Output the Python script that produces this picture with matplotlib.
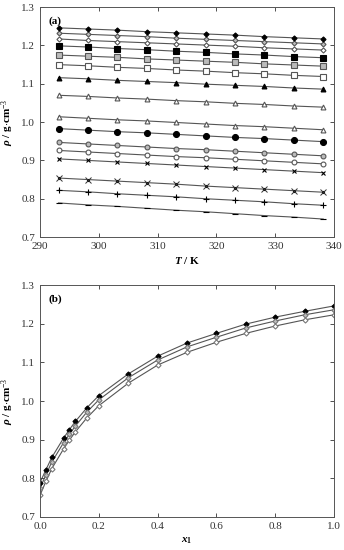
import numpy as np
import matplotlib.pyplot as plt

plt.rcParams['font.family'] = ['Liberation Serif', 'DejaVu Serif']
plt.rcParams['mathtext.fontset'] = 'custom'
plt.rcParams['mathtext.rm'] = 'Liberation Serif'
plt.rcParams['mathtext.it'] = 'Liberation Serif:italic'
plt.rcParams['mathtext.bf'] = 'Liberation Serif:bold'
plt.rcParams['mathtext.bfit'] = 'Liberation Serif:bold:italic'

T = [293.15, 298.15, 303.15, 308.15, 313.15, 318.15, 323.15, 328.15, 333.15, 338.15]
x1 = [0.0, 0.02, 0.04, 0.08, 0.10, 0.12, 0.16, 0.20, 0.30, 0.40, 0.50, 0.60, 0.70, 0.80, 0.90, 1.0]

# density (g/cm3), one row per composition x1, columns = T
rho = [
    [0.789, 0.784, 0.780, 0.775, 0.770, 0.766, 0.761, 0.756, 0.752, 0.747],
    [0.822, 0.818, 0.813, 0.809, 0.805, 0.800, 0.796, 0.792, 0.787, 0.783],
    [0.854, 0.850, 0.846, 0.842, 0.838, 0.833, 0.829, 0.825, 0.821, 0.817],
    [0.904, 0.900, 0.896, 0.892, 0.888, 0.884, 0.880, 0.876, 0.872, 0.868],
    [0.926, 0.922, 0.918, 0.914, 0.910, 0.907, 0.903, 0.899, 0.895, 0.891],
    [0.947, 0.943, 0.939, 0.935, 0.931, 0.928, 0.924, 0.920, 0.916, 0.912],
    [0.983, 0.979, 0.975, 0.972, 0.968, 0.964, 0.960, 0.957, 0.953, 0.949],
    [1.014, 1.010, 1.006, 1.003, 0.999, 0.995, 0.991, 0.988, 0.984, 0.980],
    [1.070, 1.067, 1.063, 1.060, 1.056, 1.053, 1.049, 1.046, 1.042, 1.039],
    [1.116, 1.113, 1.109, 1.106, 1.103, 1.099, 1.096, 1.093, 1.089, 1.086],
    [1.150, 1.147, 1.143, 1.140, 1.136, 1.133, 1.129, 1.126, 1.122, 1.119],
    [1.175, 1.172, 1.169, 1.165, 1.162, 1.159, 1.156, 1.152, 1.149, 1.146],
    [1.199, 1.196, 1.192, 1.189, 1.185, 1.182, 1.178, 1.175, 1.171, 1.168],
    [1.217, 1.213, 1.210, 1.207, 1.204, 1.201, 1.198, 1.194, 1.191, 1.188],
    [1.232, 1.229, 1.226, 1.223, 1.219, 1.216, 1.213, 1.210, 1.207, 1.204],
    [1.246, 1.243, 1.240, 1.236, 1.233, 1.230, 1.227, 1.223, 1.220, 1.217],
]

# marker, face colour, size for each composition in panel (a)
styles = [
    ('_', 'black', 5), ('+', 'black', 4.5), ('s', 'black', 2), ('x', 'black', 3.5),
    ('o', 'white', 3.5), ('o', '#bbbbbb', 3.5), ('o', 'black', 4.3), ('^', 'white', 3.5),
    ('^', 'white', 3.5), ('^', 'black', 3.5), ('s', 'white', 4), ('s', '#bbbbbb', 4),
    ('s', 'black', 4.3), ('D', 'white', 2.6), ('D', '#bbbbbb', 2.6), ('D', 'black', 2.6),
]

# panel (b): isotherms shown
b_cols = [0, 3, 7]
b_styles = [('D', 'black', 'black'), ('D', '#bbbbbb', '#777777'), ('D', 'white', '#777777')]

fig = plt.figure(figsize=(3.44, 5.5), dpi=100)
ax1 = fig.add_axes([0.1163, 0.569, 0.855, 0.418])
ax2 = fig.add_axes([0.1163, 0.060, 0.855, 0.4218])

rho = np.array(rho)
for i in range(len(x1)):
    m, fc, ms = styles[i]
    ax1.plot(T, rho[i], color='#555555', lw=0.8, zorder=1)
    ec = 'black' if fc == 'black' else '#555555'
    ax1.plot(T, rho[i], ls='none', marker=m, ms=ms, mfc=fc, mec=ec, mew=0.8, zorder=2)
    if i == 2:
        ax1.plot(T, rho[i], ls='none', marker='x', ms=4, mec='#333333', mew=0.7, zorder=3)

for j, c in enumerate(b_cols):
    m, fc, ec = b_styles[j]
    ax2.plot(x1, rho[:, c], color='#555555', lw=0.8, zorder=1)
    ax2.plot(x1, rho[:, c], ls='none', marker=m, ms=2.6, mfc=fc, mec=ec, mew=0.8, zorder=2)

for ax in (ax1, ax2):
    ax.set_ylim(0.7, 1.3)
    ax.set_yticks([0.7, 0.8, 0.9, 1.0, 1.1, 1.2, 1.3])
    ax.tick_params(direction='in', top=True, right=True, labelsize=8, length=3, width=0.6,
                   colors='#333333')
    for s in ax.spines.values():
        s.set_linewidth(0.7)
        s.set_color('#555555')
    ax.set_ylabel(r'$\boldsymbol{\rho}$ / g$\cdot$cm$^{-3}$', fontsize=8, fontweight='bold', labelpad=4)

ax1.set_xlim(290, 340)
ax1.set_xticks([290, 300, 310, 320, 330, 340])
ax1.set_yticklabels(['0.7', '0.8', '0.9', '1.0', '1.1', '1.2', '1.3'])
ax1.set_xlabel(r'$\mathbfit{T}$ / K', fontsize=8, fontweight='bold', labelpad=3)
ax1.text(0.03, 0.96, '(a)', transform=ax1.transAxes, fontsize=8, fontweight='bold', va='top')

ax2.set_xlim(0, 1)
ax2.set_xticks([0, 0.2, 0.4, 0.6, 0.8, 1.0])
ax2.set_xticklabels(['0.0', '0.2', '0.4', '0.6', '0.8', '1.0'])
ax2.set_yticklabels(['0.7', '0.8', '0.9', '1.0', '1.1', '1.2', '1.3'])
ax2.set_xlabel(r'$\mathbfit{x}_\mathbf{1}$', fontsize=8, labelpad=3)
ax2.text(0.03, 0.96, '(b)', transform=ax2.transAxes, fontsize=8, fontweight='bold', va='top')

fig.savefig('out.png', dpi=100)
